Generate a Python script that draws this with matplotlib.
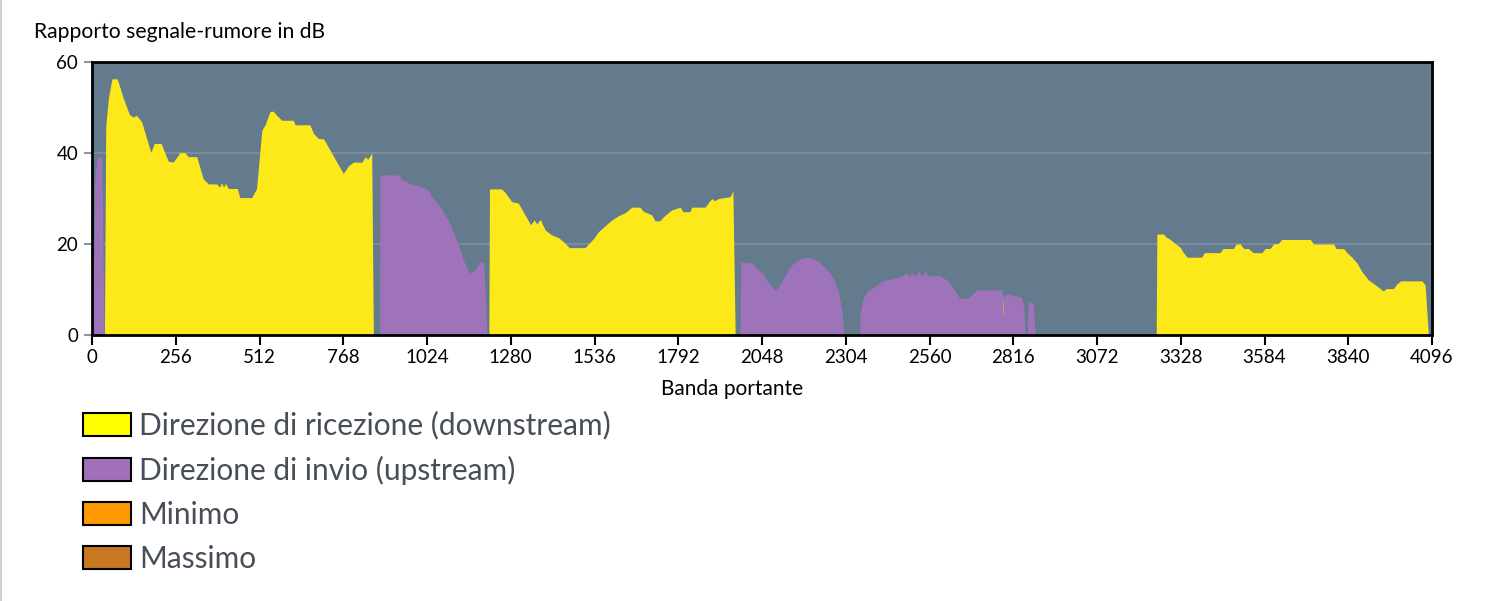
import matplotlib
matplotlib.use("Agg")
import matplotlib.pyplot as plt
from matplotlib.patches import Patch
from matplotlib.lines import Line2D
import numpy as np

# ---- data (carrier index, SNR dB) ----
ds_x = [38, 42, 50, 61, 77, 96, 114, 126, 136, 152, 167, 180, 190, 211, 233, 248, 269, 284, 294,
        320, 340, 356, 381, 390, 396, 402, 408, 417, 444, 452, 488, 503, 519, 529, 544, 554, 564,
        580, 615, 621, 666, 677, 692, 708, 768, 784, 799, 825, 835, 843, 855, 860,
        1213, 1215, 1252, 1263, 1283, 1303, 1341, 1351, 1360, 1370, 1385, 1405, 1426, 1441, 1459,
        1507, 1533, 1548, 1568, 1589, 1609, 1630, 1650, 1675, 1685, 1711, 1721, 1735, 1747, 1772,
        1798, 1806, 1828, 1833, 1874, 1894, 1903, 1915, 1951, 1959, 1966,
        2782, 2785, 2788,
        3253, 3255, 3275, 3282, 3296, 3311, 3326, 3336, 3348, 3392, 3400, 3448, 3457, 3489, 3497,
        3510, 3520, 3535, 3549, 3576, 3586, 3601, 3611, 3626, 3637, 3724, 3734, 3795, 3803, 3826,
        3836, 3851, 3866, 3882, 3902, 3927, 3947, 3956, 3978, 3988, 4000, 4065, 4075, 4085]
ds_y = [0, 46, 52, 56.3, 56.3, 52, 48.5, 47.9, 48.3, 46.8, 43.2, 40.1, 42.1, 42.1, 38.2, 38, 40.1,
        40.1, 39.2, 39.2, 34.3, 33.2, 33.2, 32.5, 33.5, 32.5, 33.3, 32.2, 32.2, 30.2, 30.2, 32.2,
        45, 46.2, 49.1, 49.2, 48.3, 47.2, 47.2, 46.2, 46.2, 44.3, 43.2, 43.1, 35.5, 37.2, 38, 38,
        39.2, 38.6, 40, 0,
        0, 32.1, 32.1, 31.3, 29.3, 29, 24.2, 25.3, 24.4, 25.4, 23.1, 22, 21.4, 20.5, 19.2,
        19.2, 21.2, 22.7, 24, 25.3, 26.2, 26.9, 28.1, 28.1, 27.2, 26.4, 25.1, 25.1, 26, 27.5,
        28.1, 27.1, 27.1, 28.1, 28.1, 30, 29.5, 30, 30.4, 31.7, 0,
        0, 9.2, 0,
        0, 22.2, 22.2, 21.6, 21, 20.1, 19.3, 18.1, 17.1, 17.1, 18.1, 18.1, 19, 19, 20,
        20, 19, 19, 18.1, 18.1, 19, 19, 20, 20.1, 21, 21, 20, 20, 19, 19,
        18.1, 17.1, 15.9, 13.9, 12.1, 10.8, 9.7, 10.2, 10.2, 11.2, 11.9, 11.9, 11, 0]

us_x = [2, 9, 16, 30, 37,
        879, 880, 937, 947, 972, 1003, 1028, 1038, 1064, 1089, 1115, 1135, 1154, 1171, 1186, 1198, 1207,
        1981, 1983, 2001, 2016, 2031, 2047, 2062, 2078, 2088, 2098, 2119, 2139, 2165, 2185, 2205,
        2226, 2246, 2266, 2282, 2292, 2299,
        2347, 2348, 2358, 2373, 2389, 2409, 2419, 2470, 2491, 2498, 2508, 2516, 2528, 2536, 2546,
        2557, 2592, 2613, 2633, 2652, 2679, 2705, 2776, 2783, 2785, 2788, 2791, 2805, 2815, 2832,
        2842, 2849, 2852, 2855, 2859, 2861, 2877, 2883]
us_y = [0, 35, 39.2, 39.2, 0,
        0, 35.2, 35.2, 34.2, 33.3, 32.7, 31.9, 30.4, 28.2, 25.3, 20.9, 16.5, 13.6, 14.3, 16, 16, 0,
        0, 16.1, 15.8, 16.1, 14.6, 13.9, 12.2, 10.6, 9.9, 10.5, 13.2, 15.4, 16.8, 17.1, 16.8,
        15.8, 14.4, 12.5, 9.5, 5.5, 0,
        0, 4.8, 8.4, 9.9, 10.5, 11.5, 12, 12.7, 13.7, 12.8, 13.8, 12.8, 14.3, 12.8, 14.1,
        13, 13, 12.1, 10.3, 8.1, 8.1, 9.9, 9.9, 9.9, 3.7, 8.8, 8.8, 9, 8.6, 8.6,
        8.1, 6, 0, 0, 0, 7.1, 7.1, 0]

x_ticks = [0, 256, 512, 768, 1024, 1280, 1536, 1792, 2048, 2304, 2560, 2816, 3072, 3328, 3584, 3840, 4096]
y_ticks = [0, 20, 40, 60]
legend_labels = ["Direzione di ricezione (downstream)", "Direzione di invio (upstream)", "Minimo", "Massimo"]
legend_colors = ["#ffff00", "#a070b8", "#ff9900", "#c87820"]

FONT = ["Lato", "DejaVu Sans"]
plt.rcParams["font.family"] = FONT

fig = plt.figure(figsize=(15.04, 6.01), dpi=100)
fig.patch.set_facecolor("white")
fig.add_artist(Line2D([0.6 / 1504, 0.6 / 1504], [0, 1], color="#d0d0d0", linewidth=1.5,
                      transform=fig.transFigure))

ax = fig.add_axes([92 / 1504, 1 - 335 / 601, 1340 / 1504, 273 / 601])
ax.set_facecolor("#647a8d")

ax.fill_between(ds_x, ds_y, 0, color="#fde81a", linewidth=0, zorder=2)
ax.fill_between(us_x, us_y, 0, color="#9e73b9", linewidth=0, zorder=3)

ax.set_xlim(0, 4096)
ax.set_ylim(0, 60)
ax.set_xticks(x_ticks)
ax.set_yticks(y_ticks)
ax.set_xticklabels([str(t) for t in x_ticks])
for v in [20, 40]:
    ax.axhline(v, color="#7b90a2", linewidth=1.3, zorder=1)

for s in ax.spines.values():
    s.set_color("black")
    s.set_linewidth(2)
    s.set_zorder(5)
ax.tick_params(axis="x", length=7, width=1.5, color="black", labelsize=13.5, pad=3, labelcolor="black")
ax.tick_params(axis="y", length=6, width=1.5, color="#8a98a6", labelsize=13.5, pad=4, labelcolor="black")

fig.text(732 / 1504, 1 - 389 / 601, "Banda portante", fontsize=15, ha="center", va="center")
fig.text(34 / 1504, 1 - 32 / 601, "Rapporto segnale-rumore in dB", fontsize=15.2,
         ha="left", va="center")

handles = [Patch(facecolor=c, edgecolor="black", linewidth=1.5) for c in legend_colors]
leg = fig.legend(handles, legend_labels, loc="upper left", bbox_to_anchor=(83 / 1504, 1 - 411 / 601),
                 frameon=False, fontsize=21.5, handlelength=1.6, handleheight=0.82, handletextpad=0.27,
                 labelspacing=0.54, borderpad=0, borderaxespad=0)
for t in leg.get_texts():
    t.set_color("#474e57")

fig.savefig("out.png", dpi=100)
